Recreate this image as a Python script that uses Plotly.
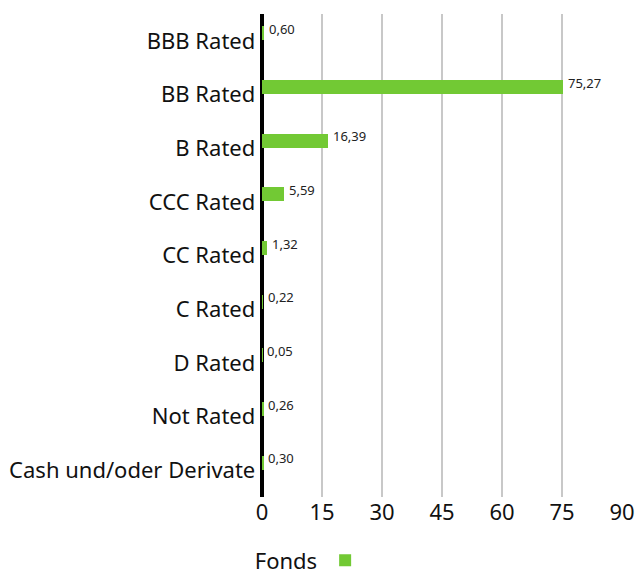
import plotly.graph_objects as go

categories = ["BBB Rated", "BB Rated", "B Rated", "CCC Rated", "CC Rated",
              "C Rated", "D Rated", "Not Rated", "Cash und/oder Derivate"]
values = [0.60, 75.27, 16.39, 5.59, 1.32, 0.22, 0.05, 0.26, 0.30]
labels = ["0,60", "75,27", "16,39", "5,59", "1,32", "0,22", "0,05", "0,26", "0,30"]
series_name = "Fonds"
xticks = [0, 15, 30, 45, 60, 75, 90]

GREEN = "#72C934"
FONT = "Noto Sans"

fig = go.Figure()
fig.add_trace(go.Bar(
    x=values, y=categories, orientation="h",
    marker=dict(color=GREEN, line=dict(width=0)),
    width=0.26, offset=-0.27,
    name="", showlegend=True, hoverinfo="skip",
))

for v, c, t in zip(values, categories, labels):
    fig.add_annotation(x=v, y=c, text=t, showarrow=False, xanchor="left",
                       yanchor="middle", xshift=3, yshift=12,
                       font=dict(size=13, color="#222", family=FONT))

fig.update_layout(
    width=635, height=574,
    margin=dict(l=262, r=13, t=14, b=77),
    plot_bgcolor="white", paper_bgcolor="white",
    font=dict(family=FONT, color="#111"),
    bargap=0,
    xaxis=dict(range=[0, 90], tickvals=xticks, showgrid=True, gridcolor="#c8c8c8",
               gridwidth=2, zeroline=True, zerolinecolor="black", zerolinewidth=4,
               tickfont=dict(size=22, color="#111"), ticks="", showline=False,
               automargin=False, fixedrange=True),
    yaxis=dict(type="category", categoryorder="array", categoryarray=categories,
               autorange="reversed", showgrid=False, ticks="", showline=False,
               automargin=False,
               tickfont=dict(size=22, color="#111"), ticksuffix=" "),
    legend=dict(orientation="h", xref="container", yref="container",
                x=0.398, xanchor="left", y=0.024, yanchor="middle",
                title=dict(text="Fonds", font=dict(size=22, color="#111")),
                font=dict(size=20), itemwidth=30),
)

fig.write_html("out.html", config={"displayModeBar": False},
               post_script="document.body.style.margin='0';")
